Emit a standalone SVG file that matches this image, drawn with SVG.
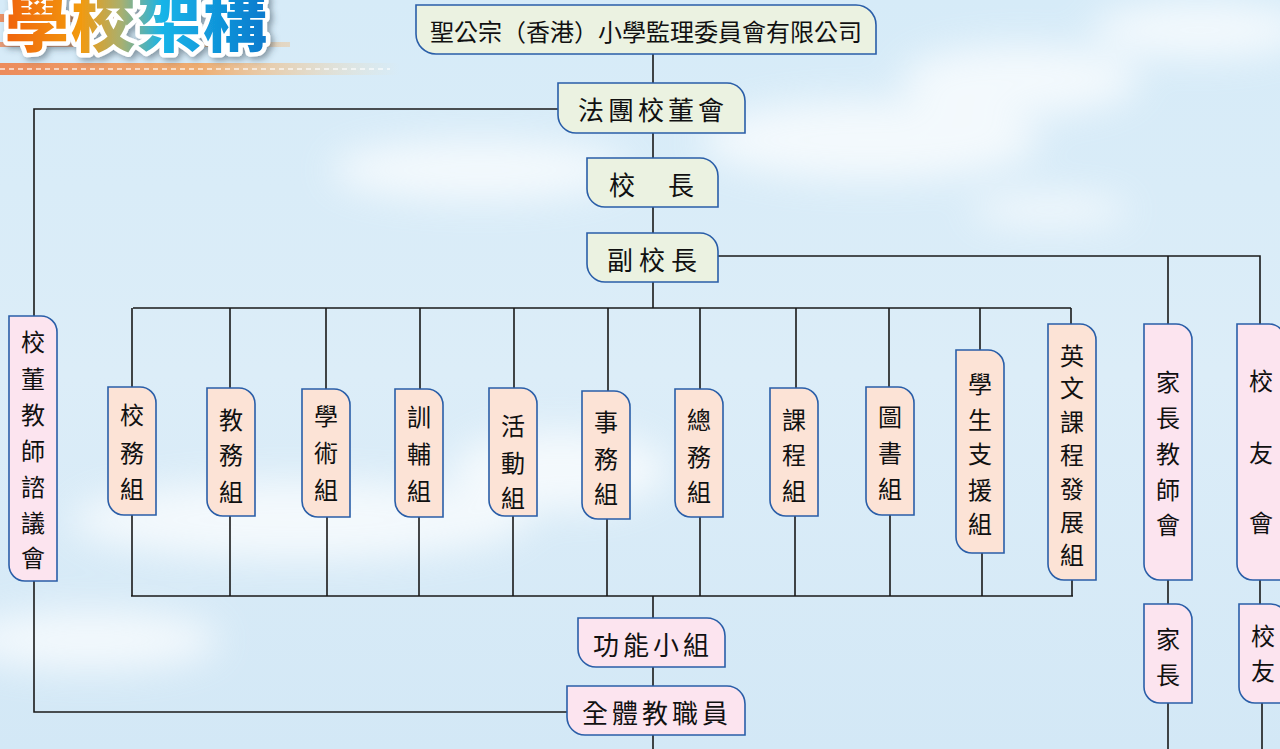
<svg xmlns="http://www.w3.org/2000/svg" width="1280" height="749" viewBox="0 0 1280 749">
<defs>
<linearGradient id="sky" x1="0" y1="0" x2="0" y2="1">
<stop offset="0" stop-color="#d6ebf8"/>
<stop offset="0.5" stop-color="#dcedf8"/>
<stop offset="1" stop-color="#d3e8f6"/>
</linearGradient>
<linearGradient id="ttl" x1="0" y1="0" x2="270" y2="0" gradientUnits="userSpaceOnUse">
<stop offset="0" stop-color="#f0600a"/>
<stop offset="0.3" stop-color="#f29a10"/>
<stop offset="0.45" stop-color="#a8b070"/>
<stop offset="0.6" stop-color="#18b4e8"/>
<stop offset="1" stop-color="#0a78cc"/>
</linearGradient>
<linearGradient id="stripe" x1="0" y1="0" x2="400" y2="0" gradientUnits="userSpaceOnUse">
<stop offset="0" stop-color="#f07a40"/>
<stop offset="0.5" stop-color="#f2a25a"/>
<stop offset="1" stop-color="#f6d8a0" stop-opacity="0"/>
</linearGradient>
<filter id="blur" x="-20%" y="-50%" width="140%" height="200%"><feGaussianBlur stdDeviation="18"/></filter>
<filter id="sh" x="-10%" y="-30%" width="130%" height="170%"><feDropShadow dx="3" dy="3" stdDeviation="3" flood-color="#304050" flood-opacity="0.5"/></filter>
<style>
.g{fill:#ebf2e1;stroke:#2a5ea8;stroke-width:1.6}
.o{fill:#fce3d6;stroke:#2a5ea8;stroke-width:1.6}
.p{fill:#fce4ef;stroke:#2a5ea8;stroke-width:1.6}
.ln{fill:none;stroke:#1a1a1a;stroke-width:1.6}
text{font-family:"Noto Sans CJK TC","Noto Sans CJK SC",sans-serif;fill:#111;text-anchor:middle;dominant-baseline:central}
.h{font-size:26px;letter-spacing:4px}
.v{font-size:24px}
</style>
</defs>
<rect width="1280" height="749" fill="url(#sky)"/>
<g filter="url(#blur)" fill="#ffffff" opacity="0.7">
<ellipse cx="480" cy="170" rx="150" ry="30"/>
<ellipse cx="870" cy="140" rx="170" ry="40"/>
<ellipse cx="1020" cy="80" rx="120" ry="35"/>
<ellipse cx="1200" cy="30" rx="110" ry="28"/>
<ellipse cx="300" cy="520" rx="230" ry="40"/>
<ellipse cx="560" cy="470" rx="110" ry="40"/>
<ellipse cx="90" cy="640" rx="130" ry="30"/>
<ellipse cx="1050" cy="210" rx="80" ry="15"/>
</g>
<g id="title">
<rect x="0" y="14" width="150" height="8" fill="url(#stripe)" opacity="0.8"/>
<rect x="0" y="42" width="290" height="5" fill="url(#stripe)" opacity="0.7"/>
<rect x="0" y="63" width="400" height="12" fill="url(#stripe)" opacity="0.85"/>
<line x1="0" y1="69" x2="390" y2="69" stroke="#ffffff" stroke-width="2" stroke-dasharray="5 4" opacity="0.6"/>
<text x="137" y="18" style="font-size:64px;font-weight:900;letter-spacing:2px;fill:url(#ttl);stroke:#ffffff;stroke-width:9;paint-order:stroke;stroke-linejoin:round" filter="url(#sh)">學校架構</text>
</g>
<g id="connectors" class="ln">
<path d="M653 54V83M653 133V158M653 207V233M653 282V308"/>
<path d="M133 308H1071M132 308V387M230 308V388M326 308V389M420 308V389M514 308V388M608 308V391M700 308V389M796 308V388M889 308V387M980 308V350M1071 308V324"/>
<path d="M132 515V596M230 516V596M327 517V596M419 517V596M513 516V596M607 519V596M700 517V596M795 516V596M890 515V596M982 553V596M1072 580V596M131 596H1073"/>
<path d="M653 596V618M653 667V686M653 735V749"/>
<path d="M718 256H1260V324M1168 256V324"/>
<path d="M1168 580V604M1168 703V749M1260 580V604M1262 703V749"/>
<path d="M558 109H34V316M34 581V712H567"/>
</g>
<g id="n-sheng"><path class="g" d="M416 5H856A20 20 0 0 1 876 25V54H436A20 20 0 0 1 416 34Z"/><text x="646" y="30" style="font-size:24px">聖公宗（香港）小學監理委員會有限公司</text></g>
<g id="n-board"><path class="g" d="M558 83H727A18 18 0 0 1 745 101V133H576A18 18 0 0 1 558 115Z"/><text x="653" y="108" class="h">法團校董會</text></g>
<g id="n-principal"><path class="g" d="M587 158H700A18 18 0 0 1 718 176V207H605A18 18 0 0 1 587 189Z"/><text x="652" y="183" class="h" style="letter-spacing:0"><tspan x="622">校</tspan><tspan x="681">長</tspan></text></g>
<g id="n-vice"><path class="g" d="M587 233H700A18 18 0 0 1 718 251V282H605A18 18 0 0 1 587 264Z"/><text x="655" y="258" class="h" style="letter-spacing:6px">副校長</text></g>
<g id="n-imc"><path class="p" d="M9 316H41A16 16 0 0 1 57 332V581H25A16 16 0 0 1 9 565Z"/><text class="v" x="33"><tspan x="33" y="340">校</tspan><tspan x="33" y="377">董</tspan><tspan x="33" y="413">教</tspan><tspan x="33" y="449">師</tspan><tspan x="33" y="485">諮</tspan><tspan x="33" y="521">議</tspan><tspan x="33" y="556">會</tspan></text></g>
<g id="n-g1"><path class="o" d="M108 387H140A16 16 0 0 1 156 403V515H124A16 16 0 0 1 108 499Z"/><text class="v"><tspan x="132" y="413">校</tspan><tspan x="132" y="451">務</tspan><tspan x="132" y="487">組</tspan></text></g>
<g id="n-g2"><path class="o" d="M207 388H239A16 16 0 0 1 255 404V516H223A16 16 0 0 1 207 500Z"/><text class="v"><tspan x="231" y="418">教</tspan><tspan x="231" y="453">務</tspan><tspan x="231" y="490">組</tspan></text></g>
<g id="n-g3"><path class="o" d="M302 389H334A16 16 0 0 1 350 405V517H318A16 16 0 0 1 302 501Z"/><text class="v"><tspan x="326" y="414">學</tspan><tspan x="326" y="451">術</tspan><tspan x="326" y="488">組</tspan></text></g>
<g id="n-g4"><path class="o" d="M395 389H427A16 16 0 0 1 443 405V517H411A16 16 0 0 1 395 501Z"/><text class="v"><tspan x="419" y="415">訓</tspan><tspan x="419" y="452">輔</tspan><tspan x="419" y="489">組</tspan></text></g>
<g id="n-g5"><path class="o" d="M489 388H521A16 16 0 0 1 537 404V516H505A16 16 0 0 1 489 500Z"/><text class="v"><tspan x="513" y="424">活</tspan><tspan x="513" y="461">動</tspan><tspan x="513" y="496">組</tspan></text></g>
<g id="n-g6"><path class="o" d="M582 391H614A16 16 0 0 1 630 407V519H598A16 16 0 0 1 582 503Z"/><text class="v"><tspan x="606" y="420">事</tspan><tspan x="606" y="457">務</tspan><tspan x="606" y="492">組</tspan></text></g>
<g id="n-g7"><path class="o" d="M675 389H707A16 16 0 0 1 723 405V517H691A16 16 0 0 1 675 501Z"/><text class="v"><tspan x="699" y="418">總</tspan><tspan x="699" y="455">務</tspan><tspan x="699" y="490">組</tspan></text></g>
<g id="n-g8"><path class="o" d="M770 388H802A16 16 0 0 1 818 404V516H786A16 16 0 0 1 770 500Z"/><text class="v"><tspan x="794" y="418">課</tspan><tspan x="794" y="453">程</tspan><tspan x="794" y="489">組</tspan></text></g>
<g id="n-g9"><path class="o" d="M866 387H898A16 16 0 0 1 914 403V515H882A16 16 0 0 1 866 499Z"/><text class="v"><tspan x="890" y="415">圖</tspan><tspan x="890" y="451">書</tspan><tspan x="890" y="487">組</tspan></text></g>
<g id="n-g10"><path class="o" d="M956 350H988A16 16 0 0 1 1004 366V553H972A16 16 0 0 1 956 537Z"/><text class="v"><tspan x="980" y="382">學</tspan><tspan x="980" y="418">生</tspan><tspan x="980" y="452">支</tspan><tspan x="980" y="488">援</tspan><tspan x="980" y="522">組</tspan></text></g>
<g id="n-g11"><path class="o" d="M1048 324H1080A16 16 0 0 1 1096 340V580H1064A16 16 0 0 1 1048 564Z"/><text class="v"><tspan x="1072" y="354">英</tspan><tspan x="1072" y="386">文</tspan><tspan x="1072" y="420">課</tspan><tspan x="1072" y="453">程</tspan><tspan x="1072" y="487">發</tspan><tspan x="1072" y="520">展</tspan><tspan x="1072" y="553">組</tspan></text></g>
<g id="n-pta"><path class="p" d="M1144 324H1176A16 16 0 0 1 1192 340V580H1160A16 16 0 0 1 1144 564Z"/><text class="v"><tspan x="1168" y="380">家</tspan><tspan x="1168" y="416">長</tspan><tspan x="1168" y="452">教</tspan><tspan x="1168" y="488">師</tspan><tspan x="1168" y="523">會</tspan></text></g>
<g id="n-alumni"><path class="p" d="M1237 324H1269A16 16 0 0 1 1285 340V580H1253A16 16 0 0 1 1237 564Z"/><text class="v"><tspan x="1261" y="379">校</tspan><tspan x="1261" y="451">友</tspan><tspan x="1261" y="521">會</tspan></text></g>
<g id="n-func"><path class="p" d="M578 618H707A18 18 0 0 1 725 636V667H596A18 18 0 0 1 578 649Z"/><text x="653" y="643" class="h">功能小組</text></g>
<g id="n-staff"><path class="p" d="M567 686H727A18 18 0 0 1 745 704V735H585A18 18 0 0 1 567 717Z"/><text x="657" y="711" class="h">全體教職員</text></g>
<g id="n-parents"><path class="p" d="M1144 604H1176A16 16 0 0 1 1192 620V703H1160A16 16 0 0 1 1144 687Z"/><text class="v"><tspan x="1168" y="637">家</tspan><tspan x="1168" y="673">長</tspan></text></g>
<g id="n-alum"><path class="p" d="M1239 604H1271A16 16 0 0 1 1287 620V703H1255A16 16 0 0 1 1239 687Z"/><text class="v"><tspan x="1263" y="634">校</tspan><tspan x="1263" y="669">友</tspan></text></g>
</svg>
